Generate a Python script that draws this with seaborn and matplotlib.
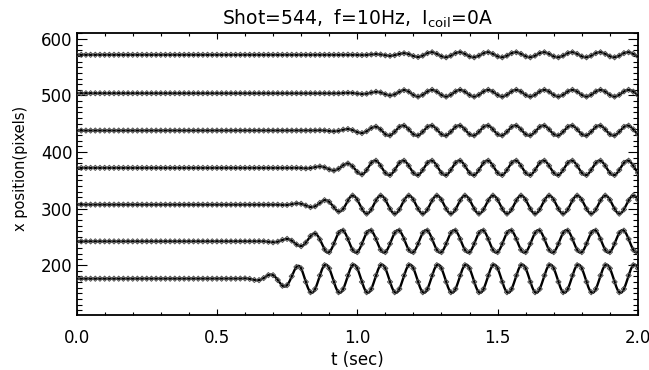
import numpy as np
import pandas as pd
import matplotlib
matplotlib.use("Agg")
import matplotlib.pyplot as plt
from matplotlib.ticker import MultipleLocator
import seaborn as sns

# Fitted oscillation parameters for each tracked position, bottom to top
trace_id = [1, 2, 3, 4, 5, 6, 7]
baseline = [176, 242, 307, 372, 438, 504, 572]       # rest position (pixels)
amplitude = [25, 20, 16, 13, 9, 6, 4.5]               # saturated amplitude (pixels)
onset = [0.56, 0.62, 0.68, 0.74, 0.80, 0.86, 0.90]    # growth starts (sec)
ramp = [0.24, 0.27, 0.29, 0.29, 0.30, 0.32, 0.34]     # growth duration (sec)
peak_phase = [0.088, 0.045, 0.084, 0.063, 0.062, 0.066, 0.064]  # time of a crest mod one period (sec)
drive_freq = 10.0                                      # Hz
frame_rate = 60.0                                      # camera frames per sec
t_end = 2.0


def displacement(t, k):
    env = np.clip((t - onset[k]) / ramp[k], 0.0, 1.0) ** 2
    return baseline[k] + amplitude[k] * env * np.cos(2 * np.pi * drive_freq * (t - peak_phase[k]))


t_fit = np.linspace(0.0, t_end, 2001)
t_frames = np.arange(int(round(t_end * frame_rate)) + 1) / frame_rate

fit_rows, frame_rows = [], []
for k, tid in enumerate(trace_id):
    fit_rows.append(pd.DataFrame({"t": t_fit, "x": displacement(t_fit, k), "trace": tid}))
    frame_rows.append(pd.DataFrame({"t": t_frames, "x": displacement(t_frames, k), "trace": tid}))
fit_df = pd.concat(fit_rows, ignore_index=True)
frame_df = pd.concat(frame_rows, ignore_index=True)

sns.set_style("ticks")
plt.rcParams["font.family"] = ["DejaVu Sans"]
plt.rcParams["mathtext.fontset"] = "dejavusans"
plt.rcParams["text.color"] = "black"
plt.rcParams["axes.labelcolor"] = "black"
plt.rcParams["xtick.color"] = "black"
plt.rcParams["ytick.color"] = "black"

fig = plt.figure(figsize=(6.49, 3.70), dpi=100)
ax = fig.add_axes([0.118, 0.149, 0.865, 0.761])

sns.lineplot(data=fit_df, x="t", y="x", units="trace", estimator=None, sort=False,
             color="black", linewidth=1.7, ax=ax, legend=False)
sns.scatterplot(data=frame_df, x="t", y="x", marker="D", s=7, facecolor="none",
                edgecolor="#505050", linewidth=0.7, ax=ax, legend=False, zorder=3)

ax.set_xlim(0, 2.0)
ax.set_ylim(112, 610)
ax.xaxis.set_major_locator(MultipleLocator(0.5))
ax.xaxis.set_minor_locator(MultipleLocator(0.1))
ax.yaxis.set_major_locator(MultipleLocator(100))
ax.yaxis.set_minor_locator(MultipleLocator(10))
ax.set_xticks([0.0, 0.5, 1.0, 1.5, 2.0])
ax.set_xticklabels(["0.0", "0.5", "1.0", "1.5", "2.0"])
ax.set_yticks([200, 300, 400, 500, 600])
ax.set_yticklabels(["200", "300", "400", "500", "600"])

ax.tick_params(axis="both", which="both", direction="in", top=True, right=True,
               colors="black", width=0.8, labelsize=12)
ax.tick_params(axis="x", which="major", length=4.2, pad=10)
ax.tick_params(axis="x", which="minor", length=2.2)
ax.tick_params(axis="y", which="major", length=7.5, pad=3)
ax.tick_params(axis="y", which="minor", length=3.8)
for sp in ax.spines.values():
    sp.set_linewidth(1.3)
    sp.set_color("black")

ax.set_xlabel("t (sec)", fontsize=12, labelpad=3)
ax.set_ylabel("x position(pixels)", fontsize=10.5)
ax.yaxis.set_label_coords(-0.086, 0.52)
ax.set_title(r"Shot=544,  f=10Hz,  I$_{\mathrm{coil}}$=0A", fontsize=13.5, pad=6,
             color="black")

fig.savefig("out.png", dpi=100)
